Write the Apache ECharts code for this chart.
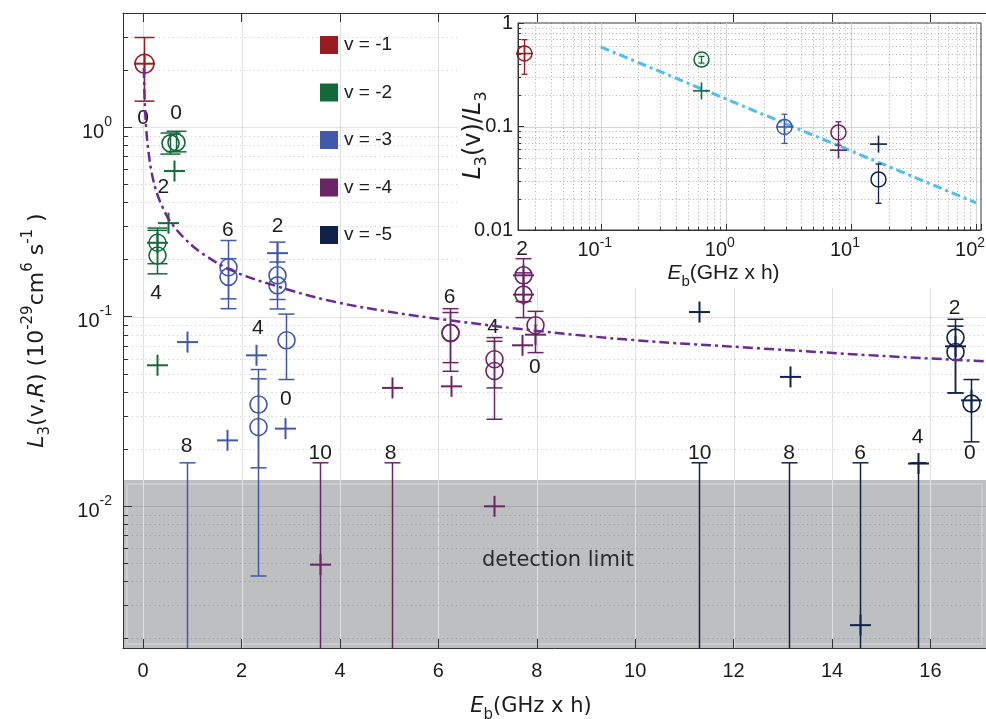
<!DOCTYPE html>
<html><head><meta charset="utf-8">
<script src="https://cdn.jsdelivr.net/npm/echarts@6/dist/echarts.min.js"></script>
<style>html,body{margin:0;padding:0;background:#fff}#c{width:986px;height:719px}</style>
</head><body><div id="c"></div>
<script>
// ================= DATA =================
const seriesNames = ['v = -1', 'v = -2', 'v = -3', 'v = -4', 'v = -5'];
const seriesColors = ['#9b1c20', '#14693a', '#4259ab', '#6b2566', '#10214a'];

// main axes
const xTicks = [0, 2, 4, 6, 8, 10, 12, 14, 16];
const xRange = [-0.41, 17.13];
const yRange = [0.00178, 4];
const detectionLimit = 0.0137;

// main panel: circles [x, y, errLow, errHigh], crosses [x, y], limits [x, upper], labels [x, y, text]
const circlesV1 = [[0.02, 2.16, 1.37, 2.97]];
const crossesV1 = [[0.02, 2.16]];
const limitsV1 = [];
const labelsV1 = [[0.0, 1.11, '0']];

const circlesV2 = [[0.55, 0.82, 0.72, 0.93], [0.66, 0.83, 0.74, 0.95], [0.29, 0.245, 0.19, 0.293], [0.29, 0.21, 0.168, 0.285]];
const crossesV2 = [[0.62, 0.586], [0.51, 0.311], [0.29, 0.245], [0.29, 0.0553]];
const limitsV2 = [];
const labelsV2 = [[0.67, 1.19, '0'], [0.41, 0.48, '2'], [0.26, 0.132, '4']];

const circlesV3 = [[1.72, 0.182, 0.124, 0.252], [1.72, 0.162, 0.110, 0.202], [2.73, 0.165, 0.123, 0.247], [2.73, 0.146, 0.1096, 0.194], [2.9, 0.0749, 0.0465, 0.103], [2.33, 0.0343, 0.0159, 0.0525], [2.33, 0.0261, 0.00427, 0.0469]];
const crossesV3 = [[0.89, 0.0733], [2.73, 0.216], [2.3, 0.0624], [1.7, 0.0222], [2.89, 0.0256]];
const limitsV3 = [[0.89, 0.0169]];
const labelsV3 = [[1.72, 0.285, '6'], [2.73, 0.30, '2'], [2.33, 0.0863, '4'], [2.9, 0.0364, '0'], [0.88, 0.0207, '8']];

const circlesV4 = [[6.23, 0.0818, 0.0514, 0.110], [6.23, 0.082, 0.0571, 0.105], [7.13, 0.0595, 0.042, 0.0774], [7.13, 0.0516, 0.0287, 0.074], [7.72, 0.165, 0.12, 0.202], [7.72, 0.1305, 0.0987, 0.17], [7.96, 0.0899, 0.0645, 0.1065]];
const crossesV4 = [[7.72, 0.165], [7.72, 0.1305], [6.25, 0.0428], [5.05, 0.042], [7.13, 0.00996], [3.59, 0.0049], [7.69, 0.0705], [7.96, 0.0802]];
const limitsV4 = [[3.6, 0.0169], [5.05, 0.0169]];
const labelsV4 = [[3.6, 0.019, '10'], [5.03, 0.019, '8'], [6.23, 0.126, '6'], [7.11, 0.088, '4'], [7.7, 0.228, '2'], [7.96, 0.054, '0']];

const circlesV5 = [[16.5, 0.0774, 0.0395, 0.0967], [16.5, 0.065, 0.0395, 0.089], [16.82, 0.0347, 0.0218, 0.0465]];
const crossesV5 = [[11.3, 0.1056], [13.14, 0.048], [14.56, 0.00235], [15.74, 0.01675], [16.5, 0.0696], [16.82, 0.0361]];
const limitsV5 = [[11.3, 0.0169], [13.12, 0.0169], [14.56, 0.0169], [15.74, 0.0169]];
const labelsV5 = [[11.31, 0.019, '10'], [13.13, 0.0189, '8'], [14.57, 0.0189, '6'], [15.74, 0.0231, '4'], [16.49, 0.110, '2'], [16.8, 0.0189, '0']];

// dash-dot fit curve
const fitCurve = [[0.014, 2.05], [0.03, 1.4], [0.06, 1.0], [0.1, 0.77], [0.17, 0.58], [0.27, 0.455], [0.4, 0.375], [0.54, 0.32], [0.8, 0.265], [1.15, 0.22], [1.8, 0.175], [2.7, 0.145], [3.8, 0.121], [5, 0.106], [6.3, 0.095], [8, 0.084], [10, 0.075], [12.5, 0.068], [15, 0.062], [17.13, 0.058]];

const annotation = [[8.43, 0.00517, 'detection limit']];

// inset (one row per v): circles [x, y, errLow, errHigh], crosses [x, y]
const insetXRange = [0.0218, 109.4];
const insetYRange = [0.01, 1];
const insetCircles = [[0.0243, 0.507, 0.32, 0.69], [0.628, 0.443, 0.41, 0.475], [2.93, 0.099, 0.0686, 0.1315], [7.91, 0.0877, 0.066, 0.111], [16.5, 0.0308, 0.0181, 0.0434]];
const insetCrosses = [[0.0243, 0.507], [0.628, 0.221], [2.93, 0.099], [7.91, 0.059], [16.5, 0.0676]];
const insetFit = [[0.1, 0.587], [100, 0.0183]];

// ================= BUILD =================
const FONT = "'Liberation Sans', Arial, Helvetica, sans-serif";
const WIDE = "'DejaVu Sans', 'Liberation Sans', sans-serif";
const TXT = '#1c1c1c';
const mainSets = [
  [circlesV1, crossesV1, limitsV1], [circlesV2, crossesV2, limitsV2], [circlesV3, crossesV3, limitsV3],
  [circlesV4, crossesV4, limitsV4], [circlesV5, crossesV5, limitsV5]
];
const allLabels = [].concat(labelsV1, labelsV2, labelsV3, labelsV4, labelsV5);

function rowsFor(circles, crosses, limits) {
  return circles.map(c => [c[0], c[1], c[2], c[3], 0])
    .concat(crosses.map(c => [c[0], c[1], c[1], c[1], 1]))
    .concat(limits.map(c => [c[0], c[1], c[1], c[1], 2]));
}

function makeMarkRender(opt) {
  return function (params, api) {
    const kind = api.value(4);
    const x = api.value(0), y = api.value(1);
    const p = api.coord([x, y]);
    const color = api.visual('color');
    const cs = params.coordSys;
    const px = Math.round(p[0]) + 0.5;
    const ln = (x1, y1, x2, y2, w) => ({ type: 'line', shape: { x1, y1, x2, y2 }, style: { stroke: color, lineWidth: w } });
    const els = [];
    if (kind === 0) {
      const a = api.coord([x, api.value(2)])[1], b = api.coord([x, api.value(3)])[1];
      els.push(ln(px, a, px, b, opt.ebw));
      els.push(ln(px - opt.cap, a, px + opt.cap, a, opt.ebw));
      els.push(ln(px - opt.cap, b, px + opt.cap, b, opt.ebw));
      els.push({ type: 'circle', shape: { cx: px, cy: p[1], r: opt.r }, style: { fill: 'none', stroke: color, lineWidth: opt.cw } });
    } else if (kind === 1) {
      els.push(ln(px - opt.cross, p[1], px + opt.cross, p[1], opt.xw));
      els.push(ln(px, p[1] - opt.cross, px, p[1] + opt.cross, opt.xw));
    } else {
      const bottom = cs.y + cs.height;
      els.push(ln(px, p[1], px, bottom, opt.ebw));
      els.push(ln(px - opt.cap, p[1], px + opt.cap, p[1], opt.ebw));
    }
    return { type: 'group', children: els };
  };
}

function decadeMinors(lo, hi) {
  const out = [];
  for (let d = -4; d <= 3; d++) {
    for (let k = 1; k <= 9; k++) {
      const v = +(k * Math.pow(10, d)).toPrecision(6);
      if (v > lo * 1.0001 && v < hi * 0.9999) out.push([v, k === 1 ? 1 : 2]);
    }
  }
  return out;
}

// main gridlines rows: [x, y, kind] kind 0 vertical major, 1 horizontal major, 2 horizontal minor
const mainGridRows = xTicks.map(v => [v, 0.1, 0])
  .concat(decadeMinors(yRange[0], yRange[1]).map(r => [1, r[0], r[1]]));
// inset gridlines rows: kind 0 vertical major, 3 vertical minor, 1 horizontal major, 2 horizontal minor
const insetGridRows = decadeMinors(insetXRange[0], insetXRange[1]).map(r => [r[0], 0.1, r[1] === 1 ? 0 : 3])
  .concat(decadeMinors(insetYRange[0], insetYRange[1]).map(r => [1, r[0], r[1]]));

function gridRender(style) {
  return function (params, api) {
    const cs = params.coordSys;
    const kind = api.value(2);
    const p = api.coord([api.value(0), api.value(1)]);
    const px = Math.round(p[0]) + 0.5, py = Math.round(p[1]) + 0.5;
    const els = [];
    if (kind === 0 || kind === 3) {
      const major = kind === 0;
      els.push({ type: 'line', shape: { x1: px, y1: cs.y, x2: px, y2: cs.y + cs.height },
        style: { stroke: major ? style.vMajor : style.minor, lineWidth: 1, lineDash: major ? null : style.dash } });
      if (!major) els.push({ type: 'line', shape: { x1: px, y1: cs.y + cs.height, x2: px, y2: cs.y + cs.height - style.minorTick }, style: { stroke: '#333', lineWidth: 1 } });
    } else {
      const major = kind === 1;
      els.push({ type: 'line', shape: { x1: cs.x, y1: py, x2: cs.x + cs.width, y2: py },
        style: { stroke: major ? style.hMajor : style.minor, lineWidth: 1, lineDash: major ? null : style.dash } });
      if (!major) els.push({ type: 'line', shape: { x1: cs.x, y1: py, x2: cs.x + style.minorTick, y2: py }, style: { stroke: '#333', lineWidth: 1 } });
    }
    return { type: 'group', children: els };
  };
}

function powLabel(v) {
  const e = Math.log10(v), r = Math.round(e);
  if (Math.abs(e - r) > 1e-6) return '';
  return '{b|10}{s|' + r + '}';
}
function insetYLabel(v) {
  const e = Math.log10(v), r = Math.round(e);
  if (Math.abs(e - r) > 1e-6) return '';
  return ({ 0: '1', '-1': '0.1', '-2': '0.01' })[r] || '';
}

const nameRich = (fs, ss, fam) => ({
  n: { fontSize: fs, fontFamily: fam, color: TXT, lineHeight: 32 },
  it: { fontSize: fs, fontFamily: fam, color: TXT, lineHeight: 32, fontStyle: 'italic' },
  sub: { fontSize: ss, fontFamily: fam, color: TXT, lineHeight: 15, verticalAlign: 'bottom' },
  sup: { fontSize: ss, fontFamily: fam, color: TXT, lineHeight: 15, verticalAlign: 'top' }
});

const series = [];
// detection limit area
series.push({
  type: 'custom', name: 'detection', xAxisIndex: 0, yAxisIndex: 0, z: 0, silent: true,
  data: [[xTicks[0], detectionLimit]],
  renderItem: function (params, api) {
    const cs = params.coordSys;
    const p = api.coord([api.value(0), api.value(1)]);
    const h = cs.y + cs.height - p[1];
    return { type: 'group', children: [
      { type: 'rect', shape: { x: cs.x, y: p[1], width: cs.width, height: h }, style: { fill: '#bebfc1' } },
      { type: 'rect', shape: { x: cs.x + 4, y: p[1] + 4, width: cs.width - 8, height: h - 8 }, style: { fill: 'none', stroke: 'rgba(255,255,255,0.28)', lineWidth: 1.5 } }
    ] };
  }
});
// main gridlines
series.push({
  type: 'custom', name: 'mainGrid', xAxisIndex: 0, yAxisIndex: 0, z: 1, silent: true,
  data: mainGridRows,
  renderItem: gridRender({ vMajor: '#e1e1e1', hMajor: 'rgba(0,0,0,0.11)', minor: 'rgba(0,0,0,0.22)', dash: [1, 3.5], minorTick: 5 })
});
// fit curve
series.push({
  type: 'line', name: 'fit', xAxisIndex: 0, yAxisIndex: 0, z: 3, silent: true, data: fitCurve,
  smooth: 0.35, symbol: 'none', lineStyle: { color: '#6c2b94', width: 2.5, type: [10, 4, 3, 4] }
});
// main data
mainSets.forEach((set, i) => {
  series.push({
    type: 'custom', name: seriesNames[i], xAxisIndex: 0, yAxisIndex: 0, z: 3, silent: true,
    itemStyle: { color: seriesColors[i] },
    data: rowsFor(set[0], set[1], set[2]),
    renderItem: makeMarkRender({ r: i === 0 ? 9.5 : 8.5, cap: i < 2 ? 10 : 8, cross: 10.5, ebw: 1.5, cw: 1.6, xw: 2 })
  });
});
// labels
series.push({
  type: 'custom', name: 'labels', xAxisIndex: 0, yAxisIndex: 0, z: 3, silent: true,
  data: allLabels.map(l => [l[0], l[1]]),
  renderItem: function (params, api) {
    const p = api.coord([api.value(0), api.value(1)]);
    return { type: 'text', x: p[0], y: p[1], style: { text: allLabels[params.dataIndex][2], font: '21px ' + FONT, fill: TXT, align: 'center', verticalAlign: 'middle' } };
  }
});
series.push({
  type: 'custom', name: 'annotation', xAxisIndex: 0, yAxisIndex: 0, z: 3, silent: true,
  data: annotation.map(l => [l[0], l[1]]),
  renderItem: function (params, api) {
    const p = api.coord([api.value(0), api.value(1)]);
    return { type: 'text', x: p[0], y: p[1], style: { text: annotation[params.dataIndex][2], font: '21px ' + WIDE, fill: '#2a2a2a', align: 'center', verticalAlign: 'middle' } };
  }
});
// inset gridlines
series.push({
  type: 'custom', name: 'insetGrid', xAxisIndex: 2, yAxisIndex: 1, z: 5, silent: true,
  data: insetGridRows,
  renderItem: gridRender({ vMajor: '#d4d4d4', hMajor: '#d4d4d4', minor: 'rgba(0,0,0,0.3)', dash: [1, 2.5], minorTick: 3 })
});
series.push({
  type: 'line', name: 'insetFit', xAxisIndex: 2, yAxisIndex: 1, z: 6, silent: true, data: insetFit,
  symbol: 'none', lineStyle: { color: '#4dbeee', width: 3, type: [9, 4, 3, 4] }
});
seriesNames.forEach((nm, i) => {
  series.push({
    type: 'custom', name: nm, xAxisIndex: 2, yAxisIndex: 1, z: 7, silent: true,
    itemStyle: { color: seriesColors[i] },
    data: rowsFor([insetCircles[i]], [insetCrosses[i]], []),
    renderItem: makeMarkRender({ r: 7.5, cap: 3, cross: 8.5, ebw: 1.3, cw: 1.5, xw: 1.6 })
  });
});

const option = {
  animation: false,
  backgroundColor: '#fff',
  textStyle: { fontFamily: FONT },
  grid: [
    { left: 123, top: 13, width: 863, height: 635, containLabel: false, outerBoundsMode: 'none' },
    { left: 518, top: 23, width: 463, height: 207, containLabel: false, outerBoundsMode: 'none', show: true, z: 4,
      backgroundColor: '#fff', borderColor: '#3a3a3a', borderWidth: 1 }
  ],
  graphic: [{ type: 'rect', z: 2, silent: true, shape: { x: 458, y: 14, width: 528, height: 274 }, style: { fill: '#fff' } }],
  legend: {
    orient: 'vertical', left: 315, top: 30, itemWidth: 18, itemHeight: 18, itemGap: 27.5, icon: 'rect',
    selectedMode: false, data: seriesNames,
    textStyle: { fontSize: 19, fontFamily: FONT, color: TXT, padding: [0, 0, 0, 1], lineHeight: 20 }
  },
  xAxis: [
    {
      type: 'value', gridIndex: 0, min: xRange[0], max: xRange[1], splitNumber: 9, z: 10,
      axisLine: { show: true, onZero: false, lineStyle: { color: '#333' } },
      axisTick: { show: true, inside: true, length: 9, lineStyle: { color: '#333' } },
      splitLine: { show: false },
      axisLabel: {
        showMinLabel: false, showMaxLabel: false, margin: 13, fontSize: 20, fontFamily: FONT, color: TXT,
        formatter: v => (Math.abs(v - Math.round(v)) < 1e-6 && Math.round(v) % 2 === 0) ? String(Math.round(v)) : ''
      },
      name: '{it|E}{sub|b}{n|(GHz x h)}', nameLocation: 'middle', nameGap: 43,
      nameTextStyle: { rich: nameRich(21, 15, WIDE), padding: [0, 47, 0, 0] }
    },
    {
      type: 'value', gridIndex: 0, position: 'top', min: xRange[0], max: xRange[1], splitNumber: 9, z: 10,
      axisLine: { show: true, onZero: false, lineStyle: { color: '#333' } },
      axisTick: { show: true, inside: true, length: 9, lineStyle: { color: '#333' } },
      splitLine: { show: false }, axisLabel: { show: false }
    },
    {
      type: 'log', logBase: 10, gridIndex: 1, min: insetXRange[0], max: insetXRange[1], z: 6,
      axisLine: { show: true, onZero: false, lineStyle: { color: '#333' } },
      axisTick: { show: true, inside: true, length: 6, lineStyle: { color: '#333' } },
      splitLine: { show: false },
      axisLabel: {
        formatter: powLabel, margin: 6, padding: [0, 12, 0, 0], color: TXT,
        rich: {
          b: { fontSize: 20, fontFamily: FONT, color: TXT, lineHeight: 28 },
          s: { fontSize: 14, fontFamily: FONT, color: TXT, lineHeight: 12, verticalAlign: 'top' }
        }
      },
      name: '{it|E}{sub|b}{n|(GHz x h)}', nameLocation: 'middle', nameGap: 27,
      nameTextStyle: { rich: nameRich(21, 15, FONT), padding: [0, 52, 0, 0] }
    }
  ],
  yAxis: [
    {
      type: 'log', logBase: 10, gridIndex: 0, min: yRange[0], max: yRange[1], z: 10,
      axisLine: { show: true, onZero: false, lineStyle: { color: '#333' } },
      axisTick: { show: true, inside: true, length: 9, lineStyle: { color: '#333' } },
      splitLine: { show: false },
      axisLabel: {
        formatter: powLabel, margin: 11, padding: [10, 0, 0, 0], color: TXT,
        rich: {
          b: { fontSize: 20, fontFamily: FONT, color: TXT, lineHeight: 34 },
          s: { fontSize: 14, fontFamily: FONT, color: TXT, lineHeight: 12, verticalAlign: 'top' }
        }
      },
      name: '{it|L}{sub|3}{n|(v,}{it|R}{n|) (10}{sup|-29}{n|cm}{sup|6}{n| s}{sup|-1}{n| )}',
      nameLocation: 'middle', nameRotate: 90, nameGap: 70,
      nameTextStyle: { rich: nameRich(22, 15, WIDE) }
    },
    {
      type: 'log', logBase: 10, gridIndex: 1, min: insetYRange[0], max: insetYRange[1], z: 6,
      axisLine: { show: true, onZero: false, lineStyle: { color: '#333' } },
      axisTick: { show: true, inside: true, length: 6, lineStyle: { color: '#333' } },
      splitLine: { show: false },
      axisLabel: { formatter: insetYLabel, margin: 5, fontSize: 20, fontFamily: FONT, color: TXT },
      name: '{it|L}{sub|3}{n|(v)/}{it|L}{sub|3}',
      nameLocation: 'middle', nameRotate: 90, nameGap: 28, nameMoveOverlap: false,
      nameTextStyle: { rich: nameRich(24, 16, WIDE), padding: [0, 18, 0, 0] }
    }
  ],
  series: series
};

const chart = echarts.init(document.getElementById('c'), null, { renderer: 'canvas' });
chart.setOption(option);
</script>
</body></html>
